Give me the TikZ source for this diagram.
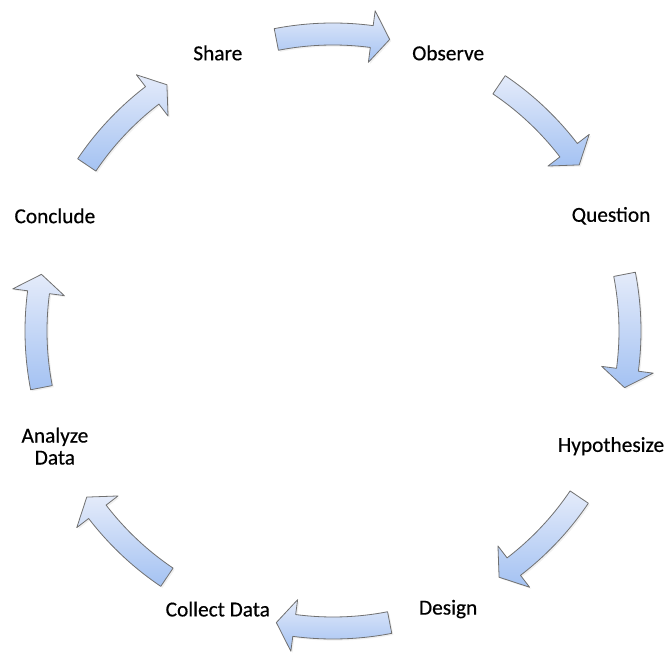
\documentclass[tikz,border=0pt]{standalone}
\usepackage{fontspec}
\setmainfont{Carlito}
\newfontfamily\stagefont{Carlito}[FakeBold=0.5]
\usetikzlibrary{shadows}
\definecolor{arrowtop}{RGB}{228,235,250}
\definecolor{arrowbottom}{RGB}{164,194,242}
\definecolor{arrowline}{RGB}{112,112,112}
\tikzset{
  stage/.style={font=\stagefont\fontsize{16}{16.5}\selectfont, align=center, inner sep=0pt},
  cyclearrow/.style={draw=arrowline, line width=0.6pt, line join=round,
    top color=arrowtop, bottom color=arrowbottom,
    drop shadow={opacity=0.12, shadow xshift=1.2pt, shadow yshift=-1.2pt}}
}
% curved block arrow on the ring, centred on angle #1, running clockwise
\newcommand{\ringarrow}[1]{%
  \path[cyclearrow] (#1+11:286) arc[start angle=#1+11, end angle=#1-7.5, radius=286]
    -- (#1-7.5:271) -- (#1-11:297) -- (#1-7.5:323) -- (#1-7.5:308)
    arc[start angle=#1-7.5, end angle=#1+11, radius=308] -- cycle;}
\begin{document}
\begin{tikzpicture}[x=0.75pt, y=0.75pt]
\useasboundingbox (-333,-322) rectangle (335,331);
\node[stage] (share) at (112.5:301) {Share};
\node[stage] (observe) at (67.5:301) {Observe};
\node[stage] (question) at (22.5:301) {Question};
\node[stage] (hypothesize) at (-22.5:301) {Hypothesize};
\node[stage] (design) at (-67.5:301) {Design};
\node[stage] (collect) at (-112.5:301) {Collect Data};
\node[stage] (analyze) at (-157.5:301) {Analyze\\Data};
\node[stage] (conclude) at (157.5:301) {Conclude};
\ringarrow{90}
\ringarrow{45}
\ringarrow{0}
\ringarrow{-45}
\ringarrow{-90}
\ringarrow{-135}
\ringarrow{180}
\ringarrow{135}
\end{tikzpicture}
\end{document}
